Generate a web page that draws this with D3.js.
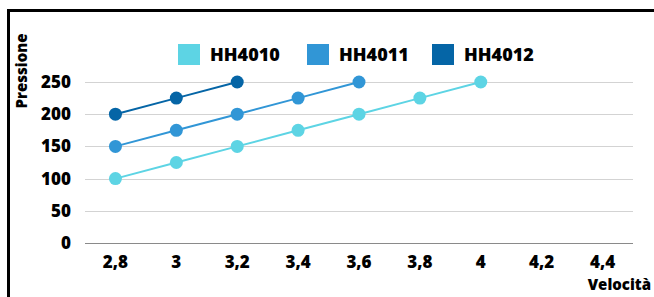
<!DOCTYPE html>
<html>
<head>
<meta charset="utf-8">
<script src="https://cdn.jsdelivr.net/npm/d3@7"></script>
<style>
  body { margin: 0; background: #fff; }
  svg { display: block; font-family: "Open Sans", sans-serif; font-weight: 800; }
</style>
</head>
<body>
<svg id="chart" width="654" height="297"></svg>
<script>
const velocities = [2.8, 3, 3.2, 3.4, 3.6, 3.8, 4, 4.2, 4.4];
const yTicks = [0, 50, 100, 150, 200, 250];
const seriesNames = ["HH4010", "HH4011", "HH4012"];
const hh4010 = [100, 125, 150, 175, 200, 225, 250];
const hh4011 = [150, 175, 200, 225, 250];
const hh4012 = [200, 225, 250];
const colors = ["#5dd4e4", "#3196d6", "#0565a6"];

const width = 654, height = 297;
const margin = { left: 85, right: 21, top: 82, bottom: 54 };

const svg = d3.select("#chart");
const fmt = v => String(v).replace(".", ",");

// frame: left + top edges
svg.append("path")
  .attr("d", `M8.5,${height} V10.5 H${width}`)
  .attr("fill", "none")
  .attr("stroke", "#000")
  .attr("stroke-width", 3);

const x = d3.scaleBand()
  .domain(velocities)
  .range([margin.left, width - margin.right]);

const y = d3.scaleLinear()
  .domain([0, 250])
  .range([height - margin.bottom, margin.top]);

// gridlines
svg.append("g")
  .selectAll("line")
  .data(yTicks)
  .join("line")
  .attr("x1", margin.left)
  .attr("x2", width - margin.right)
  .attr("y1", d => Math.round(y(d)) + 0.5)
  .attr("y2", d => Math.round(y(d)) + 0.5)
  .attr("stroke", d => d === 0 ? "#8a8a8a" : "#d3d3d3")
  .attr("stroke-width", 1);

// y labels
svg.append("g")
  .selectAll("text")
  .data(yTicks)
  .join("text")
  .attr("x", 71)
  .attr("y", d => y(d))
  .attr("dy", "0.35em")
  .attr("text-anchor", "end")
  .style("font-size", "17px")
  .text(d => d);

// x labels
svg.append("g")
  .selectAll("text")
  .data(velocities)
  .join("text")
  .attr("x", d => x(d) + x.bandwidth() / 2)
  .attr("y", 262)
  .attr("dy", "0.35em")
  .attr("text-anchor", "middle")
  .style("font-size", "17px")
  .text(fmt);

// axis titles
svg.append("text")
  .attr("transform", "translate(27,71) rotate(-90)")
  .attr("text-anchor", "middle")
  .style("font-size", "15px")
  .text("Pressione");

svg.append("text")
  .attr("x", 651)
  .attr("y", 290)
  .attr("text-anchor", "end")
  .style("font-size", "15px")
  .text("Velocità");

// series
const series = [hh4010, hh4011, hh4012].map((vals, i) => ({
  name: seriesNames[i],
  color: colors[i],
  points: vals.map((v, j) => ({ x: velocities[j], y: v }))
}));

const line = d3.line()
  .x(d => x(d.x) + x.bandwidth() / 2)
  .y(d => y(d.y));

const sg = svg.append("g")
  .selectAll("g")
  .data(series)
  .join("g");

sg.append("path")
  .attr("d", d => line(d.points))
  .attr("fill", "none")
  .attr("stroke", d => d.color)
  .attr("stroke-width", 2);

sg.selectAll("circle")
  .data(d => d.points.map(p => ({ ...p, color: d.color })))
  .join("circle")
  .attr("cx", d => x(d.x) + x.bandwidth() / 2)
  .attr("cy", d => y(d.y))
  .attr("r", 6.5)
  .attr("fill", d => d.color);

// legend
const legendX = [178, 307, 432];
const lg = svg.append("g")
  .selectAll("g")
  .data(series)
  .join("g")
  .attr("transform", (d, i) => `translate(${legendX[i]},44)`);

lg.append("rect")
  .attr("width", 22)
  .attr("height", 21)
  .attr("fill", d => d.color);

lg.append("text")
  .attr("x", 32)
  .attr("y", 11)
  .attr("dy", "0.35em")
  .style("font-size", "18px")
  .text(d => d.name);
</script>
</body>
</html>
